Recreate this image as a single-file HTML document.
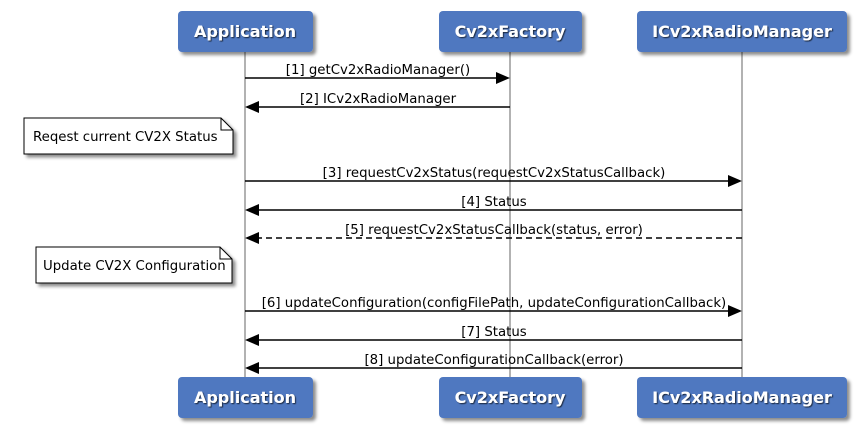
<!DOCTYPE html>
<html><head><style>body{margin:0;background:#fff}</style></head><body>
<svg width="861" height="426" xmlns="http://www.w3.org/2000/svg" font-family="DejaVu Sans, Liberation Sans, sans-serif">
<defs>
<filter id="sh" x="-10%" y="-10%" width="130%" height="140%"><feDropShadow dx="3" dy="3" stdDeviation="1.5" flood-color="#000" flood-opacity="0.45"/></filter>
<filter id="ts"><feDropShadow dx="1" dy="1" stdDeviation="0.6" flood-color="#000" flood-opacity="0.7"/></filter>
</defs>
<g stroke="#999" stroke-width="1.5">
<line x1="245" y1="52" x2="245" y2="378"/><line x1="510" y1="52" x2="510" y2="378"/><line x1="742" y1="52" x2="742" y2="378"/>
</g>
<g fill="#4f78c0" filter="url(#sh)">
<rect x="178" y="11" width="135" height="41" rx="4"/><rect x="439" y="11" width="143" height="41" rx="4"/><rect x="637" y="11" width="210" height="41" rx="4"/>
<rect x="178" y="377" width="135" height="41" rx="4"/><rect x="439" y="377" width="143" height="41" rx="4"/><rect x="637" y="377" width="210" height="41" rx="4"/>
</g>
<g fill="#fff" font-weight="bold" font-size="16" text-anchor="middle" filter="url(#ts)">
<text x="245" y="37">Application</text><text x="510" y="37">Cv2xFactory</text><text x="742" y="37">ICv2xRadioManager</text>
<text x="245" y="403">Application</text><text x="510" y="403">Cv2xFactory</text><text x="742" y="403">ICv2xRadioManager</text>
</g>
<g filter="url(#sh)" fill="#fff" stroke="#000">
<path d="M24 118H221L233 130V154H24Z"/><path d="M36 247H220L232 259V283H36Z"/>
</g>
<path d="M221 118V130H233M220 247V259H232" fill="none" stroke="#000"/>
<g font-size="13.3" fill="#000">
<text x="33" y="141">Reqest current CV2X Status</text>
<text x="43" y="270">Update CV2X Configuration</text>
</g>
<g stroke="#000" stroke-width="1.5" fill="none">
<line x1="245" y1="78" x2="496" y2="78"/>
<line x1="510" y1="107" x2="259" y2="107"/>
<line x1="245" y1="181" x2="728" y2="181"/>
<line x1="742" y1="210" x2="259" y2="210"/>
<line x1="742" y1="238" x2="259" y2="238" stroke-dasharray="6,4"/>
<line x1="245" y1="311" x2="728" y2="311"/>
<line x1="742" y1="340" x2="259" y2="340"/>
<line x1="742" y1="368" x2="259" y2="368"/>
</g>
<g fill="#000">
<path d="M510 78l-14-6v12z"/><path d="M245 107l14-6v12z"/><path d="M742 181l-14-6v12z"/><path d="M245 210l14-6v12z"/><path d="M245 238l14-6v12z"/><path d="M742 311l-14-6v12z"/><path d="M245 340l14-6v12z"/><path d="M245 368l14-6v12z"/>
</g>
<g font-size="13.3" fill="#000" text-anchor="middle">
<text x="378" y="74">[1] getCv2xRadioManager()</text>
<text x="378" y="103">[2] ICv2xRadioManager</text>
<text x="494" y="177">[3] requestCv2xStatus(requestCv2xStatusCallback)</text>
<text x="494" y="206">[4] Status</text>
<text x="494" y="234">[5] requestCv2xStatusCallback(status, error)</text>
<text x="494" y="307">[6] updateConfiguration(configFilePath, updateConfigurationCallback)</text>
<text x="494" y="336">[7] Status</text>
<text x="494" y="364">[8] updateConfigurationCallback(error)</text>
</g>
</svg>
</body></html>
